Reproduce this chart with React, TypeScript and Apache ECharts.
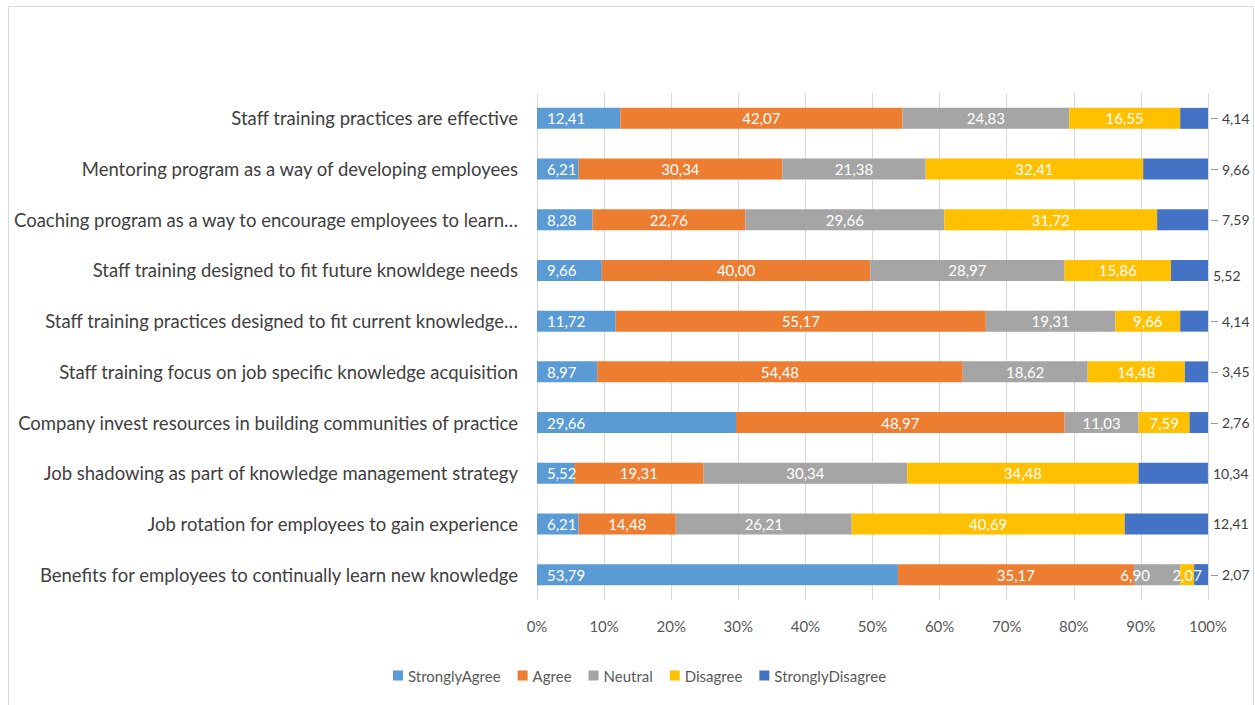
import React, { useEffect, useRef } from "react";
import * as echarts from "echarts";

const categories = [
  "Staff training practices are effective",
  "Mentoring program as a way of developing employees",
  "Coaching program as a way to encourage employees to learn…",
  "Staff training designed to fit future knowldege needs",
  "Staff training practices designed to fit current knowledge…",
  "Staff training focus on job specific knowledge acquisition",
  "Company invest resources in building communities of practice",
  "Job shadowing as part of knowledge management strategy",
  "Job rotation for employees to gain experience",
  "Benefits for employees to continually learn new knowledge",
];

const seriesNames = ["StronglyAgree", "Agree", "Neutral", "Disagree", "StronglyDisagree"];
const colors = ["#5B9BD5", "#ED7D31", "#A5A5A5", "#FFC000", "#4472C4"];

const stronglyAgree = [12.41, 6.21, 8.28, 9.66, 11.72, 8.97, 29.66, 5.52, 6.21, 53.79];
const agree = [42.07, 30.34, 22.76, 40.0, 55.17, 54.48, 48.97, 19.31, 14.48, 35.17];
const neutral = [24.83, 21.38, 29.66, 28.97, 19.31, 18.62, 11.03, 30.34, 26.21, 6.9];
const disagree = [16.55, 32.41, 31.72, 15.86, 9.66, 14.48, 7.59, 34.48, 40.69, 2.07];
const stronglyDisagree = [4.14, 9.66, 7.59, 5.52, 4.14, 3.45, 2.76, 10.34, 12.41, 2.07];

// rows whose outside label has a short leader line in the reference
const leaderRows = [0, 1, 2, 4, 5, 6, 9];

const xTicks = [0, 10, 20, 30, 40, 50, 60, 70, 80, 90, 100];

const FONT = "Lato";
const fmt = (v: number) => v.toFixed(2).replace(".", ",");

export default function App() {
  const ref = useRef<HTMLDivElement>(null);
  useEffect(() => {
    if (!ref.current) return;
    const chart = echarts.init(ref.current, null, { renderer: "svg" });
    const values = [stronglyAgree, agree, neutral, disagree, stronglyDisagree];
    const series: any[] = values.map((vals, i) => {
      const last = i === 4;
      return {
        name: seriesNames[i],
        type: "bar",
        stack: "total",
        barWidth: 21,
        itemStyle: { color: colors[i] },
        data: vals.map((v, j) => {
          const item: any = { value: v };
          if (i === 2 && j === 9) {
            item.label = { offset: [-22, 0] };
          }
          if (last && !leaderRows.includes(j)) {
            item.label = { distance: 5, offset: [0, j === 3 ? 5 : 0] };
          }
          return item;
        }),
        label: last
          ? {
              show: true,
              position: "right",
              distance: 14,
              color: "#404040",
              fontSize: 14,
              fontFamily: FONT,
              formatter: (p: any) => fmt(p.value),
            }
          : {
              show: true,
              position: i === 0 ? "insideLeft" : "inside",
              distance: 10,
              color: "#ffffff",
              fontSize: 15,
              fontFamily: FONT,
              formatter: (p: any) => fmt(p.value),
            },
      };
    });

    const border = {
      type: "rect",
      shape: { x: 8.5, y: 6.5, width: 1245, height: 720 },
      style: { fill: "none", stroke: "#d9d9d9", lineWidth: 1 },
      silent: true,
    };

    chart.setOption({
      animation: false,
      textStyle: { fontFamily: FONT },
      graphic: [border],
      grid: { left: 537, right: 47, top: 93, bottom: 105, containLabel: false },
      legend: {
        bottom: 17,
        left: 388,
        itemWidth: 10,
        itemHeight: 10,
        itemGap: 17,
        icon: "rect",
        textStyle: { color: "#595959", fontSize: 15, fontFamily: FONT },
        data: seriesNames,
      },
      xAxis: {
        type: "value",
        min: 0,
        max: 100,
        interval: 10,
        axisLine: { show: false },
        axisTick: { show: false },
        splitLine: { show: true, lineStyle: { color: "#d9d9d9", width: 1 } },
        axisLabel: {
          color: "#595959",
          fontSize: 15,
          fontFamily: FONT,
          margin: 18,
          formatter: (v: number) => (xTicks.includes(v) ? v + "%" : ""),
        },
      },
      yAxis: {
        type: "category",
        inverse: true,
        data: categories,
        axisLine: { show: false },
        axisTick: { show: false },
        axisLabel: { color: "#404040", fontSize: 18.5, fontFamily: FONT, margin: 19 },
      },
      series,
    });

    // leader lines placed through the chart's own scales
    const leaders = leaderRows.map((j) => {
      const p = chart.convertToPixel({ gridIndex: 0 }, [100, j]) as number[];
      const y = Math.round(p[1]) + 0.5;
      return {
        type: "line",
        silent: true,
        z: 100,
        shape: { x1: p[0] + 3, y1: y, x2: p[0] + 10, y2: y },
        style: { stroke: "#999999", lineWidth: 1 },
      };
    });
    chart.setOption({ graphic: [border, ...leaders] }, { replaceMerge: ["graphic"] });

    return () => chart.dispose();
  }, []);
  return (
    <div
      ref={ref}
      style={{ position: "fixed", left: 0, top: 0, width: 1255, height: 705, background: "#fff" }}
    />
  );
}
